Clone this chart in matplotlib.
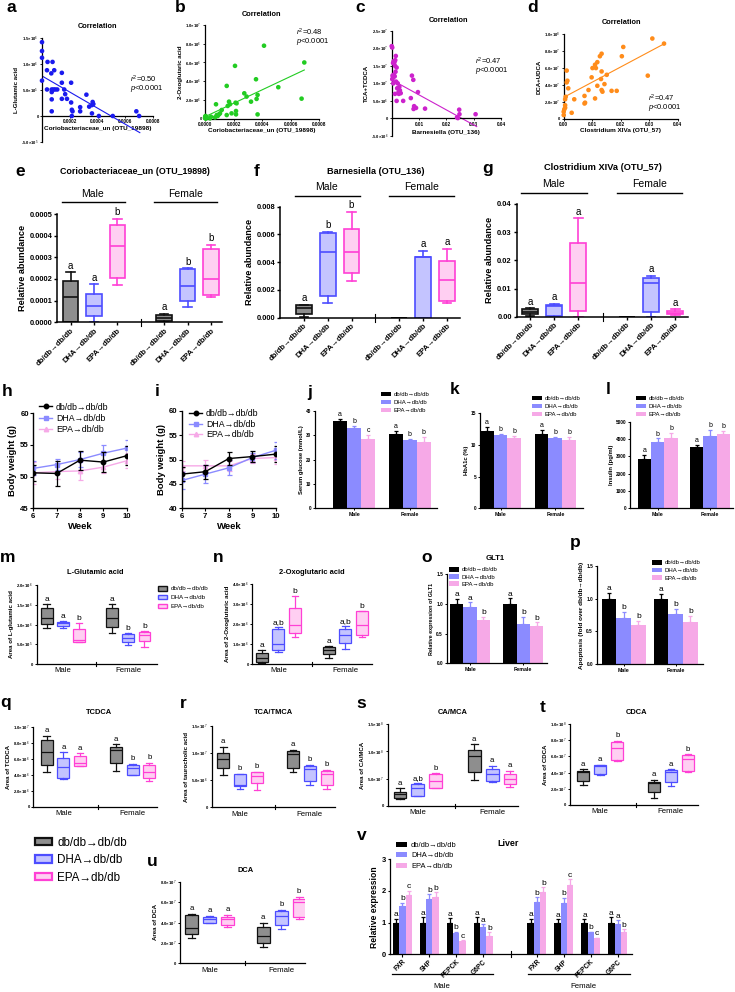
import numpy as np
import matplotlib
matplotlib.use('Agg')
import matplotlib.pyplot as plt
import matplotlib.transforms as mtransforms
from matplotlib.patches import Patch
from matplotlib.lines import Line2D

plt.rcParams['font.family'] = ['Liberation Sans', 'DejaVu Sans']
plt.rcParams['mathtext.fontset'] = 'custom'
plt.rcParams['mathtext.rm'] = 'Liberation Sans'
plt.rcParams['mathtext.it'] = 'Liberation Sans:italic'
plt.rcParams['mathtext.bf'] = 'Liberation Sans:bold'
plt.rcParams['axes.linewidth'] = 0.9

# ---------------- DATA ----------------
GROUPS = ['db/db→db/db', 'DHA→db/db', 'EPA→db/db']

# correlations (x, y) ; fits (intercept, slope, x_start, x_end)
a_x = [0, 0, 0, 0, 0.4, 0.76, 0.36, 0.36, 0.67, 0.88, 0.7, 0.7, 0.83, 0.95, 1.1, 0.7, 0.7, 1.43, 1.43, 1.6,
       1.43, 1.67, 1.8, 2.1, 2.1, 2.15, 2.2, 2.15, 2.75, 2.75, 3.2, 3.4, 3.6, 3.65, 3.7, 3.6, 4.1, 5.1, 6.8, 7.0]
a_y = [14.2, 12.5, 11.2, 6.8, 10.4, 10.4, 8.8, 5.1, 8.2, 8.8, 5.1, 4.6, 5.1, 5.1, 5.1, 3.2, 0.9, 8.3, 6.4, 5.1,
       3.3, 4.2, 3.3, 6.4, 2.6, 1.2, 0.9, 0.0, 0.9, 1.7, 4.1, 1.8, 2.1, 2.7, 2.3, 0.5, 0.0, 0.0, 0.9, 0.0]
a_fit = [7.7e5, -1.546e9, 0.0, 7.05e-4]

b_x = [0.0, 0.02, 0.05, 0.05, 0.12, 0.35, 0.42, 0.7, 0.77, 0.82, 0.89, 0.98, 1.05, 1.17, 1.52, 1.52, 1.59, 1.68,
       1.75, 1.86, 2.1, 2.14, 2.21, 2.17, 2.17, 2.75, 2.91, 3.22, 3.57, 3.61, 3.68, 3.68, 4.13, 5.13, 6.76, 6.95]
b_y = [0.1, 0.25, 0.29, 0.0, 0.14, 0.04, 0.21, 0.14, 1.54, 0.39, 0.29, 0.46, 0.57, 0.93, 3.5, 0.39, 1.36, 1.82,
       1.54, 0.57, 5.64, 1.71, 1.64, 0.82, 0.46, 2.71, 2.36, 1.82, 4.21, 2.11, 2.54, 0.46, 7.79, 3.36, 2.14, 6.0]
b_fit = [0.21e6, 7.18e9, 0.0, 6.95e-4]

c_x = [0.0, 0.2, 0.5, 0.7, 1.0, 1.3, 1.5, 1.2, 0.3, 0.5, 0.8, 1.1, 1.4, 1.8, 0.2, 0.6, 1.6, 2.2, 2.8, 2.0,
       2.5, 3.0, 3.3, 1.2, 1.8, 2.6, 4.2, 7.4, 7.9, 9.6, 7.0, 8.2, 8.9, 8.0, 12.2, 23.9, 24.2, 24.7, 24.8, 30.7]
c_y = [20.6, 20.2, 15.8, 16.3, 16.0, 16.6, 17.8, 15.0, 12.2, 11.6, 12.5, 12.0, 13.3, 14.5, 11.2, 10.0, 10.5,
       10.0, 9.0, 8.6, 7.5, 8.0, 7.2, 7.0, 5.0, 7.0, 5.0, 12.2, 11.0, 7.5, 5.8, 3.5, 3.0, 2.7, 2.8, 0.3, 0.1,
       2.5, 1.2, 1.2]
c_fit = [11.0e6, -4.28e8, 0.0, 0.0311]

d_x = [0, 0, 0.2, 0.5, 0.5, 1.05, 1.05, 1.3, 1.6, 0.7, 0.5, 2.8, 3.7, 7.3, 7.5, 7.3, 8.7, 9.8, 10.1, 11.0,
       11.3, 11.8, 12.7, 13.3, 11.0, 11.8, 13.1, 13.3, 13.3, 13.6, 14.3, 15.1, 16.8, 18.6, 20.4, 20.9, 29.5,
       31.1, 35.2]
d_y = [0.43, 0.83, 1.1, 1.6, 1.3, 5.7, 4.3, 4.5, 3.6, 2.6, 2.3, 0.7, 2.3, 1.8, 1.9, 2.7, 3.4, 4.9, 6.0, 6.4,
       6.0, 6.7, 7.4, 7.7, 2.4, 3.9, 4.7, 5.6, 3.4, 3.2, 4.1, 5.2, 3.3, 3.3, 7.4, 8.5, 5.1, 9.5, 8.9]
d_fit = [2.53e7, 1.8e9, 0.0, 0.0356]

# box stats: [whislo, q1, median, q3, whishi]  order: Male(db,DHA,EPA), Female(db,DHA,EPA)
e_box = [[0.0, 0.0, 1.15, 1.92, 2.3], [0.0, 0.29, 0.77, 1.31, 1.75], [1.72, 2.03, 3.52, 4.49, 4.77],
         [0.03, 0.05, 0.2, 0.32, 0.38], [0.69, 0.98, 1.69, 2.46, 2.49], [1.18, 1.26, 1.98, 3.38, 3.57]]
e_let = ['a', 'a', 'b', 'a', 'b', 'b']
f_box = [[0.05, 0.3, 0.7, 0.88, 0.95], [1.03, 1.56, 4.76, 6.08, 6.2], [2.67, 3.2, 4.76, 6.4, 7.64],
         [0, 0, 0, 0, 0], [0.0, 0.0, 4.35, 4.4, 4.8], [1.03, 1.2, 2.72, 4.09, 4.95]]
f_let = ['a', 'b', 'b', '', 'a', 'a']
g_box = [[0.35, 0.8, 1.8, 2.7, 3.0], [0.0, 0.1, 3.9, 4.0, 4.5], [0.0, 2.2, 12.0, 26.3, 34.9],
         [0, 0, 0, 0, 0], [0.0, 1.7, 12.0, 13.6, 14.6], [0.6, 0.8, 1.4, 2.2, 2.6]]
g_let = ['a', 'a', 'a', '', 'a', 'a']

m_box = [[9.2, 10.1, 11.6, 14.1, 15.1], [9.0, 9.6, 10.3, 10.7, 10.9], [5.5, 5.5, 6.2, 8.9, 10.3],
         [7.8, 9.3, 11.6, 14.1, 15.1], [4.8, 5.5, 6.5, 7.6, 7.8], [4.4, 5.7, 7.3, 8.2, 8.4]]
m_let = ['a', 'a', 'b', 'a', 'b', 'b']
n_box = [[0.03, 0.12, 0.3, 0.55, 0.68], [0.6, 0.68, 0.98, 1.75, 1.85], [1.37, 1.53, 1.95, 2.78, 3.4],
         [0.28, 0.5, 0.7, 0.87, 0.92], [0.75, 1.03, 1.45, 1.73, 1.92], [1.33, 1.45, 1.95, 2.65, 2.65]]
n_let = ['a', 'a,b', 'b', 'a', 'a,b', 'b']
q_box = [[4.3, 5.2, 6.9, 8.33, 8.9], [3.5, 3.6, 5.0, 6.04, 6.8], [5.1, 5.1, 5.5, 6.4, 6.7],
         [4.5, 5.5, 7.1, 7.5, 7.8], [3.96, 3.96, 4.8, 5.2, 5.33], [3.2, 3.54, 4.3, 5.2, 5.5]]
q_let = ['a', 'a', 'a', 'a', 'b', 'b']
r_box = [[6.0, 7.2, 8.85, 10.1, 11.2], [3.3, 3.9, 4.1, 6.15, 6.2], [3.2, 4.4, 5.8, 6.45, 6.6],
         [6.6, 7.3, 9.8, 10.45, 10.6], [4.1, 4.85, 7.0, 7.7, 7.8], [3.4, 4.1, 6.1, 6.7, 6.9]]
r_let = ['a', 'b', 'b', 'a', 'b', 'b']
s_box = [[1.17, 1.48, 2.1, 2.58, 3.2], [1.84, 1.84, 3.2, 3.93, 4.1], [3.2, 3.32, 4.55, 5.84, 5.96],
         [4.73, 6.27, 9.16, 10.26, 11.3], [4.43, 4.55, 5.78, 6.7, 7.4], [3.5, 3.93, 4.86, 5.78, 6.45]]
s_let = ['a', 'a,b', 'b', 'a', 'a', 'a']
t_box = [[2.47, 2.96, 4.1, 4.24, 4.4], [3.7, 3.79, 4.86, 4.94, 5.0], [5.47, 5.56, 7.0, 7.74, 7.9],
         [0.9, 1.65, 2.67, 2.8, 3.09], [2.35, 2.8, 4.1, 4.32, 4.4], [4.1, 4.2, 5.64, 6.17, 6.25]]
t_let = ['a', 'a', 'b', 'a', 'a', 'b']
u_box = [[2.45, 2.84, 3.43, 4.74, 4.84], [3.92, 3.92, 4.31, 4.5, 4.64], [3.6, 3.76, 4.31, 4.5, 4.74],
         [1.63, 2.03, 2.71, 3.53, 3.99], [3.37, 3.76, 4.64, 5.16, 5.23], [4.31, 4.5, 6.05, 6.3, 6.54]]
u_let = ['a', 'a', 'a', 'a', 'b', 'b']

# body weight
weeks = [6, 7, 8, 9, 10]
h_mean = [[50.6, 50.5, 52.6, 52.3, 53.3], [51.3, 51.9, 52.7, 53.7, 54.5], [50.6, 50.8, 50.9, 51.5, 52.5]]
h_err = [[1.3, 1.9, 1.5, 1.6, 1.5], [1.1, 0.9, 1.2, 1.3, 1.3], [1.7, 1.2, 1.5, 0.9, 1.2]]
i_mean = [[47.0, 47.5, 50.2, 50.6, 51.1], [45.7, 47.0, 48.3, 50.4, 51.9], [48.7, 48.7, 48.7, 50.2, 50.4]]
i_err = [[1.4, 1.4, 1.4, 1.2, 1.6], [1.8, 1.9, 1.5, 1.0, 1.7], [1.0, 1.2, 1.0, 1.0, 1.3]]

# bars: series (db, DHA, EPA) x [Male, Female]
sexes = ['Male', 'Female']
j_val = [[35.7, 30.4], [33.1, 28.0], [28.4, 27.0]]
j_err = [[0.8, 1.2], [0.7, 0.4], [1.6, 2.3]]
j_let = [['a', 'a'], ['b', 'b'], ['c', 'b']]
k_val = [[12.2, 11.7], [11.5, 11.05], [11.05, 10.8]]
k_err = [[0.6, 0.65], [0.2, 0.2], [0.35, 0.4]]
k_let = [['a', 'a'], ['b', 'b'], ['b', 'b']]
l_val = [[2846, 3538], [3846, 4173], [4077, 4308]]
l_err = [[230, 115], [190, 350], [290, 150]]
l_let = [['a', 'a'], ['b', 'b'], ['b', 'b']]
o_val = [[1.0, 1.0], [0.94, 0.66], [0.73, 0.63]]
o_err = [[0.085, 0.095], [0.085, 0.125], [0.05, 0.06]]
o_let = [['a', 'a'], ['a', 'b'], ['b', 'b']]
p_val = [[1.0, 1.0], [0.70, 0.77], [0.60, 0.64]]
p_err = [[0.09, 0.07], [0.10, 0.07], [0.065, 0.10]]
p_let = [['a', 'a'], ['b', 'b'], ['b', 'b']]

genes = ['FXR', 'SHP', 'PEPCK', 'G6PC', 'FXR', 'SHP', 'PEPCK', 'G6PC']
v_val = [[1.0, 1.0, 1.0, 1.0, 1.0, 1.0, 1.0, 1.0],
         [1.53, 1.75, 0.68, 0.87, 1.66, 1.63, 0.69, 0.96],
         [1.87, 1.82, 0.43, 0.58, 1.98, 2.2, 0.5, 0.7]]
v_err = [[0.13, 0.18, 0.15, 0.18, 0.13, 0.12, 0.12, 0.17],
         [0.10, 0.16, 0.04, 0.09, 0.14, 0.16, 0.02, 0.12],
         [0.14, 0.14, 0.02, 0.12, 0.14, 0.17, 0.03, 0.10]]
v_let = [['a'] * 8,
         ['b', 'b', 'b', 'a', 'b', 'b', 'b', 'a'],
         ['c', 'b', 'c', 'b', 'b', 'c', 'c', 'b']]

# ---------------- STYLE ----------------
BAR_C = ['#000000', '#8b8bff', '#f6a9e7']
BOX_EDGE = ['#111111', '#4d4dff', '#ff40d5']
BOX_FACE = ['#8e8e8e', '#c4c4ff', '#ffcff2']
LINE_C = ['#000000', '#8b8bff', '#f6a9e7']
MARK = ['o', 's', '^']

W, H = 735, 992
fig = plt.figure(figsize=(W / 100, H / 100), dpi=100)


def mkax(l, t, r, b):
    ax = fig.add_axes([l / W, 1 - b / H, (r - l) / W, (b - t) / H])
    ax.spines['top'].set_visible(False)
    ax.spines['right'].set_visible(False)
    ax.tick_params(direction='out', length=2.2, width=0.8, pad=1)
    ax.patch.set_alpha(0)
    return ax


def ftext(x, y, s, **kw):
    kw.setdefault('ha', 'center')
    kw.setdefault('va', 'center')
    return fig.text(x / W, 1 - y / H, s, **kw)


def fline(x1, x2, y, lw=1.0):
    fig.add_artist(Line2D([x1 / W, x2 / W], [1 - y / H, 1 - y / H], color='k', lw=lw))


def sci(vals):
    out = []
    for v in vals:
        if v == 0:
            out.append('0')
            continue
        e = int(np.floor(np.log10(abs(v)) + 1e-9))
        out.append(f'{v / 10 ** e:.1f}×10$^{{{e}}}$')
    return out


def letter(x, y, s):
    ftext(x, y, s, fontsize=12.5, fontweight='bold')


def gap_mark(ax, x, h=0.035):
    tr = mtransforms.blended_transform_factory(ax.transData, ax.transAxes)
    ax.plot([x, x], [-h, h], transform=tr, color='k', lw=0.8, clip_on=False)


def legend_at(handles, x, y, fs, **kw):
    fig.legend(handles, GROUPS, loc='upper left', bbox_to_anchor=(x / W, 1 - y / H), frameon=False,
               fontsize=fs, borderpad=0, borderaxespad=0, **kw)


def box_panel(ax, stats, scale, positions, letters, width, lw, lfs, loff):
    for i, (s, pos) in enumerate(zip(stats, positions)):
        c = i % 3
        v = [x * scale for x in s]
        d = dict(whislo=v[0], q1=v[1], med=v[2], q3=v[3], whishi=v[4], fliers=[])
        ax.bxp([d], positions=[pos], widths=width, capwidths=width * 0.55, patch_artist=True,
               showfliers=False, manage_ticks=False,
               boxprops=dict(facecolor=BOX_FACE[c], edgecolor=BOX_EDGE[c], linewidth=lw),
               medianprops=dict(color=BOX_EDGE[c], linewidth=lw),
               whiskerprops=dict(color=BOX_EDGE[c], linewidth=lw),
               capprops=dict(color=BOX_EDGE[c], linewidth=lw))
        if letters[i]:
            ax.text(pos, v[4] + loff, letters[i], ha='center', va='bottom', fontsize=lfs)


def bar_panel(ax, vals, errs, lets, centers, width, lfs, loff, cap=1.6):
    for g in range(3):
        x = np.array(centers, dtype=float) + (g - 1) * width
        ax.bar(x, vals[g], width, color=BAR_C[g], edgecolor='none', zorder=2)
        ax.errorbar(x, vals[g], yerr=[np.zeros(len(x)), errs[g]], fmt='none', ecolor=BAR_C[g],
                    elinewidth=0.9, capsize=cap, capthick=0.9, zorder=3)
        for xi, vv, ee, L in zip(x, vals[g], errs[g], lets[g]):
            ax.text(xi, vv + ee + loff, L, ha='center', va='bottom', fontsize=lfs)


# ---------------- ROW 1: correlations ----------------
def scatter_panel(ax, xs, ys, fit, col, xlim, ylim, xticks, xtl, yticks, xlabel, ylabel, zero_axis):
    ax.scatter(xs, ys, s=11, color=col, edgecolors='none', zorder=3, clip_on=False)
    xx = np.array([fit[2], fit[3]])
    ax.plot(xx, fit[0] + fit[1] * xx, color=col, lw=0.8, zorder=2)
    ax.set_xlim(*xlim)
    ax.set_ylim(*ylim)
    if zero_axis:
        ax.spines['bottom'].set_position(('data', 0))
    ax.set_xticks(xticks)
    ax.set_xticklabels(xtl, fontsize=3.3, fontweight='bold')
    ax.set_yticks(yticks)
    ax.set_yticklabels(sci(yticks), fontsize=3.0, fontweight='bold')
    ax.tick_params(length=1.6, width=0.6, pad=0.8)
    ax.set_xlabel(xlabel, fontsize=4.6, fontweight='bold', labelpad=1)
    ax.set_ylabel(ylabel, fontsize=4.4, fontweight='bold', labelpad=1.5)


def rp(x, y, r2):
    ftext(x, y, f'$r^2$={r2}', fontsize=5.4, ha='left')
    ftext(x, y + 9.5, '$p$<0.0001', fontsize=5.4, ha='left')


ax = mkax(42, 38, 153, 142)
scatter_panel(ax, np.array(a_x) * 1e-4, np.array(a_y) * 1e5, a_fit, '#1a1aee', (0, 0.0008), (-5e5, 1.5e6),
              [0.0002, 0.0004, 0.0006, 0.0008], ['0.0002', '0.0004', '0.0006', '0.0008'],
              [-5e5, 0, 5e5, 1e6, 1.5e6], 'Coriobacteriaceae_un (OTU_19898)', 'L-Glutamic acid', True)
ax.xaxis.set_label_coords(0.5, 0.155)
ftext(97, 27, 'Correlation', fontsize=5.3, fontweight='bold')
rp(130, 79.5, '0.50')
letter(11, 8, 'a')

ax = mkax(205, 25, 319.3, 118.7)
scatter_panel(ax, np.array(b_x) * 1e-4, np.array(b_y) * 1e6, b_fit, '#22cc22', (0, 0.0008), (0, 1e7),
              [0, 0.0002, 0.0004, 0.0006, 0.0008], ['0.0000', '0.0002', '0.0004', '0.0006', '0.0008'],
              [0, 2e6, 4e6, 6e6, 8e6, 1e7], 'Coriobacteriaceae_un (OTU_19898)', '2-Oxoglutaric acid', False)
ftext(262, 15, 'Correlation', fontsize=5.3, fontweight='bold')
rp(296, 32, '0.48')
letter(180, 7, 'b')

ax = mkax(391.7, 30.7, 501, 136)
scatter_panel(ax, np.array(c_x) * 1e-3, np.array(c_y) * 1e6, c_fit, '#cc22cc', (0, 0.04), (-5e6, 2.5e7),
              [0.01, 0.02, 0.03, 0.04], ['0.01', '0.02', '0.03', '0.04'],
              [-5e6, 0, 5e6, 1e7, 1.5e7, 2e7, 2.5e7], 'Barnesiella (OTU_136)', 'TCA+TCDCA', True)
ax.xaxis.set_label_coords(0.5, 0.06)
ftext(448, 20, 'Correlation', fontsize=5.3, fontweight='bold')
rp(475, 61.5, '0.47')
letter(360, 7, 'c')

ax = mkax(563.7, 34.3, 677.7, 118.7)
scatter_panel(ax, np.array(d_x) * 1e-3, np.array(d_y) * 1e7, d_fit, '#ff8c1a', (0, 0.04), (0, 1e8),
              [0, 0.01, 0.02, 0.03, 0.04], ['0.00', '0.01', '0.02', '0.03', '0.04'],
              [0, 2e7, 4e7, 6e7, 8e7, 1e8], 'Clostridium XIVa (OTU_57)', 'DCA+UDCA', False)
ftext(621, 22, 'Correlation', fontsize=5.3, fontweight='bold')
rp(648, 98, '0.47')
letter(533, 7, 'd')

# ---------------- ROW 2: abundance boxplots ----------------
pos6 = [0, 1, 2, 4, 5, 6]


def row2(ax, stats, scale, lets, ylim, yticks, fmt, lfs=7):
    box_panel(ax, stats, scale, pos6, lets, 0.66, 1.2, lfs, ylim[1] * 0.015)
    ax.set_ylim(*ylim)
    ax.set_yticks(yticks)
    ax.set_yticklabels([fmt.format(v) for v in yticks], fontsize=5.4, fontweight='bold')
    ax.set_xticks(pos6)
    ax.set_xticklabels(GROUPS * 2, rotation=45, ha='right', rotation_mode='anchor', fontsize=5.6,
                       fontweight='bold')
    ax.set_ylabel('Relative abundance', fontsize=6.6, fontweight='bold', labelpad=2)
    ax.tick_params(width=1.0, length=2.5)
    for sp in ['left', 'bottom']:
        ax.spines[sp].set_linewidth(1.1)
    gap_mark(ax, 3)


ax = mkax(57.3, 214, 222, 322.3)
ax.set_xlim(-0.57, 6.47)
row2(ax, e_box, 1e-4, e_let, (0, 0.0005), [0, 1e-4, 2e-4, 3e-4, 4e-4, 5e-4], '{:.4f}')
ftext(135, 172, 'Coriobacteriaceae_un (OTU_19898)', fontsize=6.4, fontweight='bold')
letter(20, 172, 'e')
ftext(93, 194, 'Male', fontsize=7.5)
ftext(186, 194, 'Female', fontsize=7.5)
fline(62.3, 125, 202.3)
fline(154, 217.3, 202.3)

ax = mkax(280, 206.7, 460, 317.7)
ax.set_xlim(-1.0, 6.55)
row2(ax, f_box, 1e-3, f_let, (0, 0.008), [0, 0.002, 0.004, 0.006, 0.008], '{:.3f}')
ftext(376, 172, 'Barnesiella (OTU_136)', fontsize=6.6, fontweight='bold')
letter(257, 172, 'f')
ftext(326, 187, 'Male', fontsize=7.5)
ftext(421.7, 187, 'Female', fontsize=7.5)
fline(295, 360, 195.7)
fline(389, 454.3, 195.7)

ax = mkax(516.7, 204, 688, 316.7)
ax.set_xlim(-0.55, 6.53)
row2(ax, g_box, 1e-3, g_let, (0, 0.04), [0, 0.01, 0.02, 0.03, 0.04], '{:.2f}')
ftext(603, 168, 'Clostridium XIVa (OTU_57)', fontsize=6.7, fontweight='bold')
letter(488, 168, 'g')
ftext(553.3, 184.3, 'Male', fontsize=7.5)
ftext(650, 184.3, 'Female', fontsize=7.5)
fline(521, 586.7, 193)
fline(616.7, 681.7, 193)

# ---------------- ROW 3: body weight & bars ----------------
def line_panel(ax, means, errs, ylim, yticks):
    for g in range(3):
        ax.errorbar(weeks, means[g], yerr=errs[g], color=LINE_C[g], marker=MARK[g], markersize=3.2,
                    lw=1.0, elinewidth=0.9, capsize=1.8, capthick=0.9, zorder=3 - g + 2 * (g == 0))
    ax.set_xlim(6, 10)
    ax.set_ylim(*ylim)
    ax.set_xticks(weeks)
    ax.set_yticks(yticks)
    ax.tick_params(labelsize=5.6)
    for t in ax.get_xticklabels() + ax.get_yticklabels():
        t.set_fontweight('bold')
    ax.set_xlabel('Week', fontsize=6.8, fontweight='bold', labelpad=1.5)
    ax.set_ylabel('Body weight (g)', fontsize=6.8, fontweight='bold', labelpad=2)
    for sp in ['left', 'bottom']:
        ax.spines[sp].set_linewidth(1.0)


line_handles = [Line2D([], [], color=LINE_C[g], marker=MARK[g], markersize=3.2, lw=1.0) for g in range(3)]

ax = mkax(33.3, 413.3, 126.7, 508.3)
line_panel(ax, h_mean, h_err, (45, 60), [45, 50, 55, 60])
legend_at(line_handles, 39, 402.5, 6.3, handlelength=1.5, handletextpad=0.45, labelspacing=0.25)
letter(7, 392, 'h')

ax = mkax(181.7, 410.7, 276, 508.3)
line_panel(ax, i_mean, i_err, (40, 60), [40, 45, 50, 55, 60])
legend_at(line_handles, 189, 409.5, 6.3, handlelength=1.5, handletextpad=0.45, labelspacing=0.15)
letter(157, 392, 'i')

bar_handles = [Patch(facecolor=BAR_C[g], edgecolor='none') for g in range(3)]


def small_bar_axes(ax, ylim, yticks, ylabel, ylfs=4.2, tlfs=3.4):
    ax.set_ylim(*ylim)
    ax.set_yticks(yticks)
    ax.set_yticklabels([str(v) for v in yticks], fontsize=tlfs, fontweight='bold')
    ax.set_xticks([0, 1])
    ax.set_xticklabels(sexes, fontsize=3.8, fontweight='bold')
    ax.set_ylabel(ylabel, fontsize=ylfs, fontweight='bold', labelpad=1.5)
    ax.tick_params(length=1.6, width=0.7)


ax = mkax(315, 410.7, 436.7, 508.3)
ax.set_xlim(-0.70, 1.48)
bar_panel(ax, j_val, j_err, j_let, [0, 1], 0.25, 5.0, 0.4)
small_bar_axes(ax, (0, 40), [0, 10, 20, 30, 40], 'Serum glucose (mmol/L)')
legend_at(bar_handles, 381, 391.5, 4.3, handlelength=1.6, handleheight=0.8, handletextpad=0.5,
          labelspacing=0.45)
letter(310, 392, 'j')

ax = mkax(480, 413.3, 583.3, 508.3)
ax.set_xlim(-0.374, 1.51)
bar_panel(ax, k_val, k_err, k_let, [0, 1], 0.25, 5.0, 0.15)
small_bar_axes(ax, (0, 15), [0, 5, 10, 15], 'HbA1c (%)')
legend_at(bar_handles, 532, 395.5, 4.3, handlelength=1.6, handleheight=0.8, handletextpad=0.5,
          labelspacing=0.45)
letter(455, 390, 'k')

ax = mkax(630, 421.7, 733, 508.3)
ax.set_xlim(-0.53, 1.44)
bar_panel(ax, l_val, l_err, l_let, [0, 1], 0.255, 5.0, 50)
small_bar_axes(ax, (0, 5000), [0, 1000, 2000, 3000, 4000, 5000], 'Insulin (pg/ml)')
legend_at(bar_handles, 636, 395.5, 4.3, handlelength=1.6, handleheight=0.8, handletextpad=0.5,
          labelspacing=0.45)
letter(608, 390, 'l')

# ---------------- ROW 4 ----------------
def metab_axes(ax, ylim, yticks, ylabel, centers, gap, title_xy, title, lfs_tick=5.6):
    ax.set_ylim(*ylim)
    ax.set_yticks(yticks)
    ax.set_yticklabels(sci(yticks), fontsize=3.1, fontweight='bold')
    ax.set_xticks(centers)
    ax.set_xticklabels(sexes, fontsize=lfs_tick)
    ax.tick_params(axis='x', length=0, pad=2.5)
    ax.tick_params(axis='y', length=1.6, width=0.7)
    ax.set_ylabel(ylabel, fontsize=4.4, fontweight='bold', labelpad=1.5)
    gap_mark(ax, gap, 0.025)
    ftext(title_xy[0], title_xy[1], title, fontsize=5.4, fontweight='bold')


box_handles = [Patch(facecolor=BOX_FACE[g], edgecolor=BOX_EDGE[g], linewidth=1.0) for g in range(3)]

ax = mkax(36.7, 585, 156.7, 664)
ax.set_xlim(-0.61, 6.75)
box_panel(ax, m_box, 1e5, pos6, m_let, 0.72, 0.9, 6.0, 2.5e4)
metab_axes(ax, (0, 2e6), [0, 5e5, 1e6, 1.5e6, 2e6], 'Area of L-glutamic acid', [1, 5], 3,
           (95, 572), 'L-Glutamic acid')
legend_at(box_handles, 158, 586, 4.5, handlelength=1.5, handleheight=0.75, handletextpad=0.5,
          labelspacing=0.55)
letter(8, 557, 'm')

ax = mkax(252.3, 584, 372, 664)
ax.set_xlim(-0.56, 6.6)
box_panel(ax, n_box, 1e6, pos6, n_let, 0.72, 0.9, 6.0, 5e4)
metab_axes(ax, (0, 4e6), [0, 1e6, 2e6, 3e6, 4e6], 'Area of 2-Oxoglutaric acid', [1, 5], 3,
           (311.7, 572), '2-Oxoglutaric acid')
letter(218, 557, 'n')

ax = mkax(446.7, 574, 546.7, 663.3)
ax.set_xlim(-0.44, 1.44)
bar_panel(ax, o_val, o_err, o_let, [0, 1], 0.25, 6.0, 0.01)
small_bar_axes(ax, (0, 1.5), [0.0, 0.5, 1.0, 1.5], 'Relative expression of GLT1', ylfs=3.9)
ax.set_yticklabels(['0.0', '0.5', '1.0', '1.5'], fontsize=3.4, fontweight='bold')
ftext(495, 558, 'GLT1', fontsize=5.6, fontweight='bold')
legend_at(bar_handles, 449, 567, 4.3, handlelength=1.6, handleheight=0.8, handletextpad=0.5,
          labelspacing=0.3)
letter(427, 558, 'o')

ax = mkax(596.7, 565.7, 703.3, 664.3)
ax.set_xlim(-0.52, 1.53)
bar_panel(ax, p_val, p_err, p_let, [0, 1], 0.28, 6.0, 0.01)
small_bar_axes(ax, (0, 1.5), [0.0, 0.5, 1.0, 1.5], 'Apoptosis (fold over db/db→db/db)', ylfs=4.6)
ax.set_yticklabels(['0.0', '0.5', '1.0', '1.5'], fontsize=3.4, fontweight='bold')
legend_at(bar_handles, 652, 560, 4.3, handlelength=1.6, handleheight=0.8, handletextpad=0.5,
          labelspacing=0.4)
letter(575, 543, 'p')

# ---------------- ROW 5 ----------------
pos6b = [0, 1, 2, 4.15, 5.15, 6.15]

ax = mkax(33.3, 726.7, 156.7, 806.7)
ax.set_xlim(-0.8, 6.6)
box_panel(ax, q_box, 1e6, pos6b, q_let, 0.72, 0.9, 5.6, 2e5)
metab_axes(ax, (0, 1e7), [0, 2e6, 4e6, 6e6, 8e6, 1e7], 'Area of TCDCA', [1, 5.15], 3.1, (99, 713), 'TCDCA')
letter(6, 703, 'q')

ax = mkax(211.7, 726, 335, 807.3)
ax.set_xlim(-0.69, 6.65)
box_panel(ax, r_box, 1e6, pos6b, r_let, 0.72, 0.9, 5.6, 3e5)
metab_axes(ax, (0, 1.5e7), [0, 5e6, 1e7, 1.5e7], 'Area of taurocholic acid', [1, 5.15], 3.1,
           (273, 713), 'TCA/TMCA')
letter(183, 703, 'r')

ax = mkax(387.7, 724.3, 518, 805.7)
ax.set_xlim(-0.69, 6.6)
box_panel(ax, s_box, 1e7, pos6b, s_let, 0.72, 0.9, 5.6, 3e6)
metab_axes(ax, (0, 1.5e8), [0, 5e7, 1e8, 1.5e8], 'Area of CA/MCA', [1, 5.15], 3.1, (453, 712), 'CA/MCA')
letter(361, 703, 's')

ax = mkax(570, 724, 698.3, 805)
ax.set_xlim(-0.78, 6.76)
box_panel(ax, t_box, 1e7, pos6b, t_let, 0.72, 0.9, 5.6, 2e6)
metab_axes(ax, (0, 1e8), [0, 2e7, 4e7, 6e7, 8e7, 1e8], 'Area of CDCA', [1, 5.15], 3.1, (636.7, 712), 'CDCA')
letter(543, 707, 't')

# ---------------- ROW 6 ----------------
big_handles = [Patch(facecolor=BOX_FACE[g], edgecolor=BOX_EDGE[g], linewidth=1.6) for g in range(3)]
legend_at(big_handles, 35, 836.5, 8.4, handlelength=1.45, handleheight=0.65, handletextpad=0.45,
          labelspacing=0.48)

ax = mkax(180, 881.7, 305, 963.3)
ax.set_xlim(-0.65, 6.33)
pos6c = [0, 1, 2, 4, 5, 6]
box_panel(ax, u_box, 1e7, pos6c, u_let, 0.72, 0.9, 5.6, 1.5e6)
metab_axes(ax, (0, 8e7), [0, 2e7, 4e7, 6e7, 8e7], 'Area of DCA', [1, 5], 3, (246, 870), 'DCA')
letter(152, 862, 'u')

ax = mkax(390, 859.3, 631.7, 954.3)
ax.set_xlim(-0.46, 8.52)
vpos = [0, 1, 2, 3, 5, 6, 7, 8]
bar_panel(ax, v_val, v_err, v_let, vpos, 0.235, 6.0, 0.01, cap=1.2)
ax.set_ylim(0, 3)
ax.set_yticks([0, 1, 2, 3])
ax.set_yticklabels(['0', '1', '2', '3'], fontsize=5.4, fontweight='bold')
ax.set_xticks(vpos)
ax.set_xticklabels(genes, rotation=45, ha='right', rotation_mode='anchor', fontsize=4.8, fontweight='bold')
ax.tick_params(length=1.8, width=0.8)
ax.set_ylabel('Relative expression', fontsize=6.2, fontweight='bold', labelpad=2)
gap_mark(ax, 4.05, 0.03)
ftext(508, 844, 'Liver', fontsize=6.4, fontweight='bold')
legend_at(bar_handles, 396, 841.5, 5.4, handlelength=1.5, handleheight=0.7, handletextpad=0.5,
          labelspacing=0.45)
letter(362, 835, 'v')
fline(392, 493, 974, lw=0.9)
fline(528, 630, 974, lw=0.9)
ftext(442, 987, 'Male', fontsize=5.6)
ftext(583, 987, 'Female', fontsize=5.6)

fig.savefig('out.png', dpi=100)
